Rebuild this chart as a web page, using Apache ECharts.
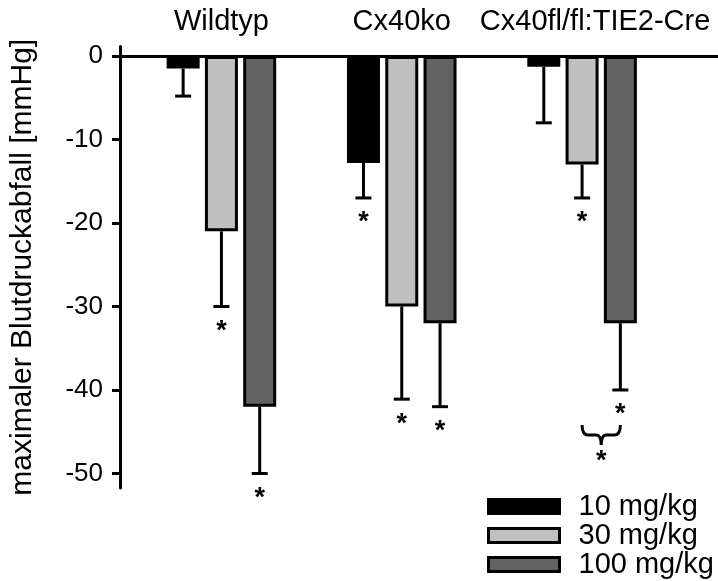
<!DOCTYPE html>
<html>
<head>
<meta charset="utf-8">
<script src="https://cdn.jsdelivr.net/npm/echarts@6/dist/echarts.min.js"></script>
<style>
  html, body { margin: 0; padding: 0; background: #fff; }
  #chart { width: 718px; height: 581px; }
</style>
</head>
<body>
<div id="chart"></div>
<script>
// data
const categories = ['Wildtyp', 'Cx40ko', 'Cx40fl/fl:TIE2-Cre'];
const doses = ['10 mg/kg', '30 mg/kg', '100 mg/kg'];
const mean10 = [-1.5, -12.8, -1.3];
const mean30 = [-21, -30, -13];
const mean100 = [-42, -32, -32];
const err10 = [-4.8, -17, -8];
const err30 = [-30, -41.1, -17];
const err100 = [-50, -42, -40];
const star10 = [0, 1, 0];
const star30 = [1, 1, 1];
const star100 = [1, 1, 1];
const yTicks = [0, -10, -20, -30, -40, -50];
// bracket between 30 and 100 mg/kg in the third group
const bracketGroup = 2;
const bracketValue = -44.2;

const FONT = 'Liberation Sans, Arial, sans-serif';
const STAR_FONT = 'bold 27px ' + FONT;
const colors = ['#000000', '#c0c0c0', '#636363'];
const BAR_W = 33;
const BAR_GAP = 0.16;
const STEP = BAR_W * (1 + BAR_GAP);

const means = [mean10, mean30, mean100];
const errs = [err10, err30, err100];
const stars = [star10, star30, star100];

const errData = [];
means.forEach(function (m, s) {
  m.forEach(function (v, i) {
    errData.push([i, s, v, errs[s][i], stars[s][i]]);
  });
});

const chart = echarts.init(document.getElementById('chart'));

const yRange = { min: -51.74, max: 1.14 };

const option = {
  backgroundColor: '#ffffff',
  animation: false,
  textStyle: { fontFamily: FONT },
  legend: {
    orient: 'vertical',
    left: 487,
    top: 492,
    padding: 0,
    itemGap: 0,
    itemWidth: 71,
    itemHeight: 14,
    icon: 'rect',
    selectedMode: false,
    itemStyle: { borderColor: '#000', borderWidth: 3 },
    textStyle: { fontFamily: FONT, fontSize: 29, color: '#000', lineHeight: 28.5, padding: [0, 0, 0, 14] },
    data: doses
  },
  grid: [
    { left: 117, right: 0, top: 46.5, bottom: 93 },
    { left: 131.25, right: 45.75, top: 46.5, bottom: 93 }
  ],
  xAxis: [{
    gridIndex: 0,
    type: 'value',
    min: 0,
    max: 1,
    axisLine: { show: true, onZero: true, lineStyle: { color: '#000', width: 3 } },
    axisTick: { show: false },
    axisLabel: { show: false },
    splitLine: { show: false }
  }, {
    gridIndex: 1,
    type: 'category',
    position: 'top',
    data: categories,
    axisLine: { show: false, onZero: false },
    axisTick: { show: false },
    splitLine: { show: false },
    axisLabel: {
      fontFamily: FONT,
      fontSize: 29,
      color: '#000',
      margin: 10,
      interval: 0,
      formatter: function (v, i) { return i === 2 ? '{s|' + v + '}' : v; },
      rich: { s: { fontFamily: FONT, fontSize: 29, color: '#000', padding: [0, 0, 0, 26] } }
    }
  }],
  yAxis: [{
    gridIndex: 0,
    type: 'value',
    min: yRange.min,
    max: yRange.max,
    name: 'maximaler Blutdruckabfall [mmHg]',
    nameLocation: 'middle',
    nameGap: 82,
    nameTextStyle: { fontFamily: FONT, fontSize: 30, color: '#000' },
    axisLine: { show: true, lineStyle: { color: '#000', width: 3 } },
    axisTick: { show: true, length: 8, customValues: yTicks, lineStyle: { color: '#000', width: 3 } },
    axisLabel: { customValues: yTicks, fontFamily: FONT, fontSize: 26, color: '#000', margin: 17 },
    splitLine: { show: false }
  }, {
    gridIndex: 1,
    type: 'value',
    min: yRange.min,
    max: yRange.max,
    show: false
  }],
  series: doses.map(function (name, s) {
    return {
      name: name,
      type: 'bar',
      xAxisIndex: 1,
      yAxisIndex: 1,
      barWidth: BAR_W,
      barGap: (BAR_GAP * 100) + '%',
      itemStyle: { color: colors[s], borderColor: '#000', borderWidth: 3 },
      data: means[s]
    };
  }).concat([{
    type: 'custom',
    xAxisIndex: 1,
    yAxisIndex: 1,
    encode: { x: 0, y: [2, 3] },
    data: errData,
    z: 5,
    renderItem: function (params, api) {
      const cat = api.value(0);
      const s = api.value(1);
      const p0 = api.coord([cat, api.value(2)]);
      const p1 = api.coord([cat, api.value(3)]);
      const x = p0[0] + (s - 1) * STEP;
      const children = [
        { type: 'line', shape: { x1: x, y1: p0[1], x2: x, y2: p1[1] }, style: { stroke: '#000', lineWidth: 3 } },
        { type: 'line', shape: { x1: x - 8, y1: p1[1], x2: x + 8, y2: p1[1] }, style: { stroke: '#000', lineWidth: 3 } }
      ];
      if (api.value(4)) {
        children.push({
          type: 'text',
          style: { x: x, y: p1[1] + 25, text: '*', align: 'center', verticalAlign: 'middle', font: STAR_FONT, fill: '#000' }
        });
      }
      return { type: 'group', children: children };
    }
  }, {
    type: 'custom',
    xAxisIndex: 1,
    yAxisIndex: 1,
    data: [[bracketGroup, bracketValue]],
    z: 5,
    renderItem: function (params, api) {
      const p = api.coord([api.value(0), api.value(1)]);
      const xl = p[0];
      const xr = p[0] + STEP;
      const xm = (xl + xr) / 2;
      const y = p[1];
      const d = 'M' + xl + ' ' + y +
        ' Q' + xl + ' ' + (y + 10) + ' ' + (xl + 6) + ' ' + (y + 10) +
        ' L' + (xm - 5) + ' ' + (y + 10) +
        ' Q' + xm + ' ' + (y + 10) + ' ' + xm + ' ' + (y + 20) +
        ' Q' + xm + ' ' + (y + 10) + ' ' + (xm + 5) + ' ' + (y + 10) +
        ' L' + (xr - 6) + ' ' + (y + 10) +
        ' Q' + xr + ' ' + (y + 10) + ' ' + xr + ' ' + y;
      return {
        type: 'group',
        children: [
          { type: 'path', shape: { pathData: d }, style: { stroke: '#000', lineWidth: 3, fill: null } },
          { type: 'text', style: { x: xm, y: y + 36, text: '*', align: 'center', verticalAlign: 'middle', font: STAR_FONT, fill: '#000' } }
        ]
      };
    }
  }])
};

chart.setOption(option);
</script>
</body>
</html>
